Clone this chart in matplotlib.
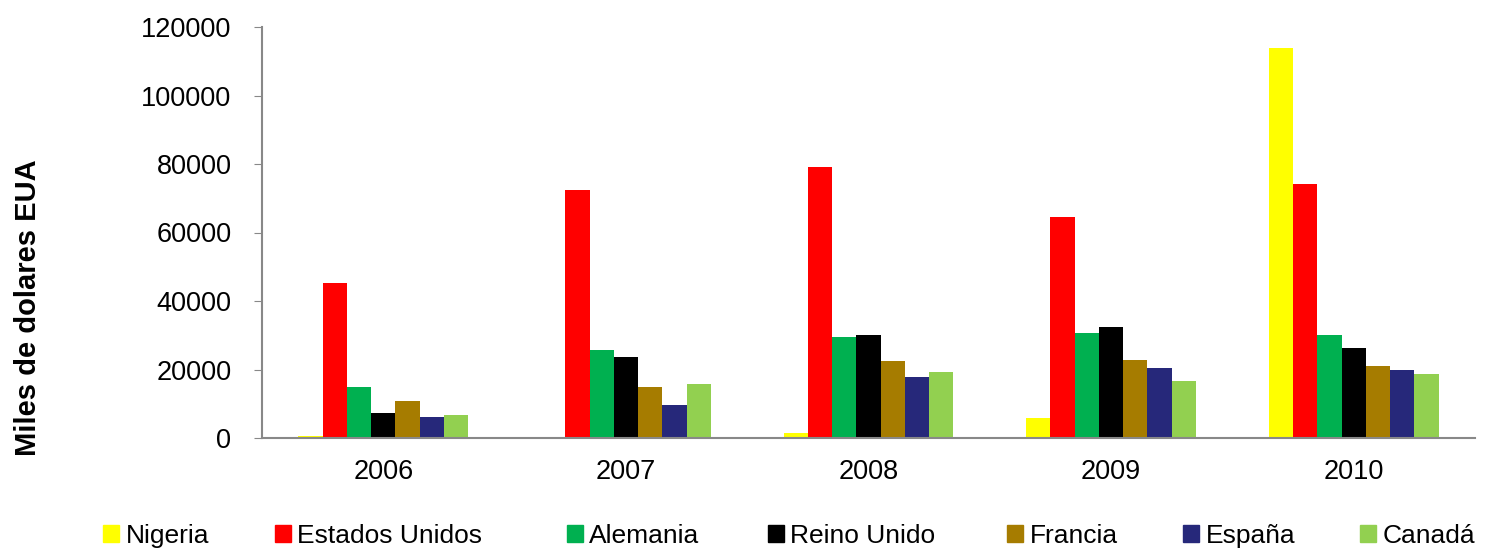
import numpy as np
import matplotlib.pyplot as plt
from matplotlib.patches import Patch

plt.rcParams["font.family"] = ["Liberation Sans", "DejaVu Sans"]

years = ["2006", "2007", "2008", "2009", "2010"]
series = ["Nigeria", "Estados Unidos", "Alemania", "Reino Unido",
          "Francia", "España", "Canadá"]

nigeria = [600, 400, 1400, 5700, 113900]
estados_unidos = [45400, 72300, 79000, 64400, 74200]
alemania = [14800, 25800, 29600, 30700, 30200]
reino_unido = [7400, 23600, 30200, 32300, 26200]
francia = [10800, 15000, 22600, 22900, 21100]
espana = [6000, 9600, 17900, 20300, 19800]
canada = [6600, 15700, 19400, 16600, 18800]

values = [nigeria, estados_unidos, alemania, reino_unido, francia, espana, canada]
colors = ["#FFFF00", "#FF0000", "#00B050", "#000000", "#A67C00", "#26287A", "#92D050"]

fig = plt.figure(figsize=(14.88, 5.51), dpi=100)
ax = fig.add_axes([262 / 1488, 1 - 438 / 551, (1475 - 262) / 1488, (438 - 27) / 551])

x = np.arange(len(years))
w = 0.1
for i, (vals, c) in enumerate(zip(values, colors)):
    ax.bar(x + (i - 3) * w, vals, width=w, color=c, linewidth=0)

ax.set_xlim(-0.5, len(years) - 0.5)
ax.set_ylim(0, 120000)
ax.set_yticks(range(0, 120001, 20000))
ax.set_xticks(x)
ax.set_xticklabels(years)
ax.tick_params(axis="y", labelsize=19.5, length=6, color="#888888", pad=16)
ax.tick_params(axis="x", labelsize=19.5, length=0, pad=15)
for s in ["top", "right"]:
    ax.spines[s].set_visible(False)
for s in ["left", "bottom"]:
    ax.spines[s].set_color("#888888")
    ax.spines[s].set_linewidth(1.5)

ax.set_ylabel("Miles de dolares EUA", fontsize=21, fontweight="bold")
ax.yaxis.set_label_coords(-0.181, 0.316)

# legend entries placed like the original (uneven spacing)
leg_x = [103, 275, 567, 768, 1007, 1183, 1360]
for name, c, lx in zip(series, colors, leg_x):
    fig.legend(handles=[Patch(color=c, label=name)], loc="center left",
               bbox_to_anchor=(lx / 1488, 1 - 536 / 551), frameon=False,
               fontsize=19, handlelength=0.6, handleheight=0.6,
               handletextpad=0.25, borderpad=0, borderaxespad=0)

fig.savefig("out.png", dpi=100)
